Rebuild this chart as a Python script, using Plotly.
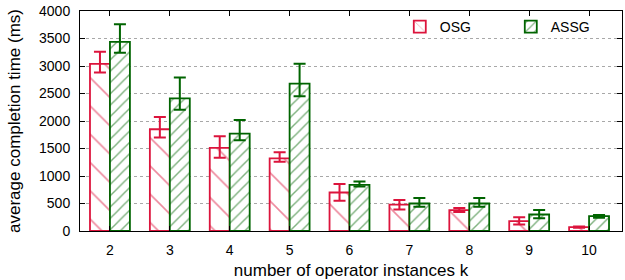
import plotly.graph_objects as go

k_values = [2, 3, 4, 5, 6, 7, 8, 9, 10]

osg_mean = [3040, 1850, 1510, 1320, 700, 480, 380, 180, 70]
osg_err_plus = [220, 225, 215, 110, 155, 85, 40, 70, 12]
osg_err_minus = [160, 150, 180, 60, 150, 90, 35, 60, 12]

assg_mean = [3440, 2410, 1770, 2680, 840, 500, 500, 300, 270]
assg_err_plus = [320, 380, 250, 360, 60, 100, 100, 80, 20]
assg_err_minus = [200, 205, 120, 230, 30, 60, 60, 70, 30]

y_ticks = [0, 500, 1000, 1500, 2000, 2500, 3000, 3500, 4000]

RED = "#DC143C"
GREEN = "#006400"
FONT = "Liberation Sans, Arial, sans-serif"

fig = go.Figure()
fig.add_trace(go.Bar(
    x=k_values, y=osg_mean, name="OSG",
    marker=dict(color="white", line=dict(color=RED, width=1.8),
                pattern=dict(shape="\\", fgcolor=RED, bgcolor="white", size=20, solidity=0.08, fillmode="overlay")),
    error_y=dict(type="data", symmetric=False, array=osg_err_plus, arrayminus=osg_err_minus,
                 color=RED, thickness=2, width=6),
))
fig.add_trace(go.Bar(
    x=k_values, y=assg_mean, name="ASSG",
    marker=dict(color="white", line=dict(color=GREEN, width=1.8),
                pattern=dict(shape="/", fgcolor=GREEN, bgcolor="white", size=8, solidity=0.18, fillmode="overlay")),
    error_y=dict(type="data", symmetric=False, array=assg_err_plus, arrayminus=assg_err_minus,
                 color=GREEN, thickness=2, width=6),
))

fig.update_layout(
    width=625, height=280,
    margin=dict(l=80, r=2, t=11, b=47),
    paper_bgcolor="white", plot_bgcolor="white",
    font=dict(family=FONT, size=14, color="black"),
    barmode="group", bargap=1/3, bargroupgap=0,
    showlegend=True,
    legend=dict(orientation="h", x=0.59, xanchor="left", y=1.0, yanchor="top",
                bgcolor="rgba(0,0,0,0)", font=dict(size=14), entrywidth=66, entrywidthmode="pixels",
                traceorder="normal"),
    xaxis=dict(range=[1.5, 10.55], tickmode="array", tickvals=k_values,
               ticks="inside", ticklen=5, tickcolor="black", mirror="ticks",
               showline=True, linecolor="black", linewidth=1, showgrid=False, zeroline=False,
               ticklabelstandoff=6,
               title=dict(text="number of operator instances k", standoff=8)),
    yaxis=dict(range=[0, 4000], tickmode="array", tickvals=y_ticks,
               ticks="inside", ticklen=5, tickcolor="black", mirror="ticks",
               showline=True, linecolor="black", linewidth=1,
               showgrid=True, gridcolor="#a8a8a8", griddash="dot", gridwidth=1, zeroline=False,
               ticklabelstandoff=6,
               title=dict(text="average completion time (ms)", standoff=14)),
)

fig.write_html("out.html", config={"displayModeBar": False},
               post_script="document.body.style.margin='0';document.body.style.padding='0';")
